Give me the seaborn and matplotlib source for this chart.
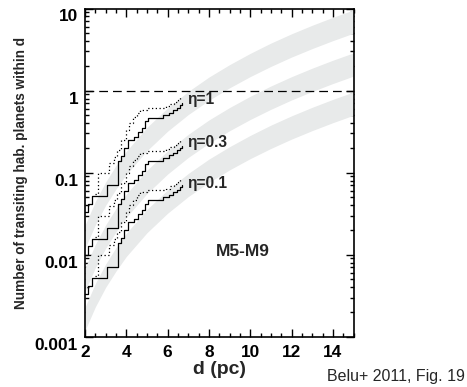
import numpy as np
import pandas as pd
import seaborn as sns
from matplotlib import pyplot as plt
from matplotlib import ticker
from matplotlib.transforms import ScaledTranslation

# efficiency factors of the three curves
etas = [1.0, 0.3, 0.1]
eta_labels = ['η=1', 'η=0.3', 'η=0.1']
eta_label_y = [0.77, 0.235, 0.074]

# grey band (eta = 1)
band_d = [2, 2.5, 3, 3.5, 4, 5, 6, 7, 8, 9, 10, 11, 12, 13, 14, 15]
band_hi = [0.0228, 0.0444, 0.0768, 0.122, 0.182, 0.356, 0.614, 0.976,
           1.46, 2.07, 2.84, 3.79, 4.92, 6.25, 7.81, 9.6]
band_lo = [0.0119, 0.0231, 0.040, 0.063, 0.095, 0.185, 0.32, 0.51,
           0.76, 1.08, 1.48, 1.97, 2.56, 3.25, 4.06, 5.0]

# cumulative star counts (eta = 1), solid curve
solid_d = [2.0, 2.15, 2.32, 3.07, 3.6, 3.75, 3.9, 4.1, 4.35, 4.55, 4.75,
           4.9, 5.05, 5.8, 6.05, 6.25, 6.45, 6.6, 6.7]
solid_n = [0.033, 0.042, 0.052, 0.07, 0.14, 0.16, 0.2, 0.25, 0.27, 0.31, 0.35,
           0.42, 0.46, 0.5, 0.54, 0.58, 0.62, 0.66, 0.7]

# dotted curve (eta = 1)
dot_d = [2.5, 2.63, 3.15, 3.4, 3.55, 3.75, 4.0, 4.15, 4.32, 4.5, 4.66,
         5.0, 5.9, 6.1, 6.3, 6.5, 6.6]
dot_n = [0.055, 0.099, 0.13, 0.155, 0.19, 0.25, 0.33, 0.4, 0.47, 0.53, 0.58,
         0.61, 0.64, 0.69, 0.73, 0.77, 0.84]

sns.set_style("ticks")
plt.rcParams['font.family'] = ['Liberation Sans', 'DejaVu Sans']

fig = plt.figure(figsize=(4.67, 3.87), dpi=100)
ax = fig.add_axes([0.182, 0.13, 0.575, 0.848])

for eta in etas:
    ax.fill_between(band_d, np.array(band_lo) * eta, np.array(band_hi) * eta,
                    color='#e8eaea', linewidth=0, zorder=1)

for eta in etas:
    df_s = pd.DataFrame({'d': solid_d, 'n': np.array(solid_n) * eta})
    sns.lineplot(data=df_s, x='d', y='n', ax=ax, color='black', linewidth=0.9,
                 drawstyle='steps-post', zorder=3)
    df_d = pd.DataFrame({'d': dot_d, 'n': np.array(dot_n) * eta})
    sns.lineplot(data=df_d, x='d', y='n', ax=ax, color='black', linewidth=0.9,
                 linestyle=(0, (1, 2)), drawstyle='steps-post', zorder=3)

ax.axhline(1, color='black', linewidth=0.9, linestyle=(0, (7, 4)), zorder=2)

for lab, y in zip(eta_labels, eta_label_y):
    ax.text(6.95, y, lab, fontsize=11.2, fontweight='bold', va='center', ha='left')
ax.text(9.65, 0.0108, 'M5-M9', fontsize=12.5, fontweight='bold', va='center', ha='center')

ax.set_yscale('log')
ax.set_xlim(2, 15)
ax.set_ylim(0.001, 10)
ax.set_xticks([2, 4, 6, 8, 10, 12, 14])
ax.xaxis.set_minor_locator(ticker.MultipleLocator(0.5))
ax.set_yticks([0.001, 0.01, 0.1, 1, 10])
ax.set_yticklabels(['0.001', '0.01', '0.1', '1', '10'])
ax.tick_params(which='both', direction='in', top=True, right=True, width=1, colors='black',
               labelsize=12.4)
ax.tick_params(which='major', length=6)
ax.tick_params(axis='x', which='major', pad=6)
ax.tick_params(axis='y', which='major', pad=5)
ax.tick_params(which='minor', length=3)
for lab in ax.get_xticklabels() + ax.get_yticklabels():
    lab.set_fontweight('bold')
off = ScaledTranslation(0, -5 / 72, fig.dpi_scale_trans)
for lab in ax.get_yticklabels():
    lab.set_transform(lab.get_transform() + off)

for sp in ax.spines.values():
    sp.set_linewidth(1.2)
    sp.set_color('black')

ax.set_xlabel('d (pc)', fontsize=14, fontweight='bold', labelpad=1)
ax.set_ylabel('Number of transiting hab. planets within d', fontsize=9.8,
              fontweight='bold', labelpad=5)

fig.text(0.995, 0.008, 'Belu+ 2011, Fig. 19', fontsize=11.5, ha='right', va='bottom')

fig.savefig('out.png', dpi=100)
